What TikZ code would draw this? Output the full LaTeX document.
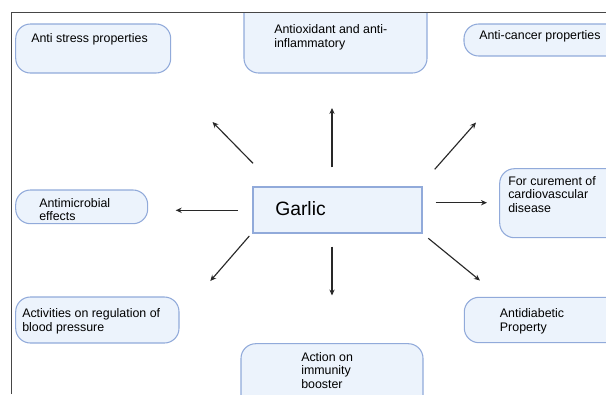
\documentclass[tikz,border=0pt]{standalone}
\usepackage{fontspec}
\setmainfont{Liberation Sans}
\usetikzlibrary{arrows.meta}
\definecolor{bubblefill}{RGB}{236,243,252}
\definecolor{bubbleline}{RGB}{145,170,218}
\definecolor{framegray}{RGB}{70,70,70}
\definecolor{spokegray}{RGB}{40,40,40}
\tikzset{
	bubble/.style={draw=bubbleline, fill=bubblefill, line width=0.8pt, rounded corners=11pt},
	bubbletext/.style={anchor=base west, inner sep=0pt, align=left, font=\fontsize{9.3pt}{10pt}\selectfont},
	spoke/.style={-{Stealth[length=4.5pt,width=4pt]}, line width=0.85pt, draw=spokegray}
}

\begin{document}
\begin{tikzpicture}[x=0.75pt, y=-0.75pt]
		%%%%% START %%%%%
		\useasboundingbox (0, 0) rectangle (606, 394);
		
		\begin{scope}
		\clip (11.7, 12.7) rectangle (606, 394);
		\draw[bubble] (15.7, 24) rectangle (170.7, 73);
		\draw[bubble] (244, -5) rectangle (427, 73);
		\draw[bubble] (464, 24) rectangle (625, 56);
		\draw[bubble] (15.7, 190) rectangle (147.7, 223.7);
		\draw[bubble] (499.7, 168.7) rectangle (625, 237.7);
		\draw[bubble] (15.7, 297) rectangle (179, 343);
		\draw[bubble] (241, 343.7) rectangle (423, 415);
		\draw[bubble] (464.3, 297.3) rectangle (625, 342.7);
		\end{scope}
		
		\draw[framegray, line width=0.8pt] (11.7, 394) -- (11.7, 12.7) -- (606, 12.7);
		
		% texts sit on the baseline of their last line
		\node[bubbletext] (stress) at (31, 42.5) {Anti stress properties};
		\node[bubbletext] (antiox) at (274, 47.3) {Antioxidant and anti-\\inflammatory};
		\node[bubbletext] (cancer) at (479, 39.5) {Anti-cancer properties};
		\node[bubbletext] (microbial) at (39, 220.8) {Antimicrobial\\effects};
		\node[bubbletext] (cardio) at (508, 212) {For curement of\\cardiovascular\\disease};
		\node[bubbletext] (pressure) at (22, 331.3) {Activities on regulation of\\blood pressure};
		\node[bubbletext] (immunity) at (301, 388) {Action on\\immunity\\booster};
		\node[bubbletext] (diabetic) at (499.7, 331) {Antidiabetic\\Property};
		
		% centre box
		\node[draw=bubbleline, fill=bubblefill, line width=0.8pt, minimum width=126.75pt, minimum height=34.5pt] (garlic) at (337.5, 210) {};
		\node[anchor=base west, inner sep=0pt, font=\fontsize{14.5pt}{16pt}\selectfont] (garlictext) at (275, 215) {Garlic};
		
		% spokes
		\coordinate (t1) at (253, 163.3);   \coordinate (h1) at (212.5, 122);
		\coordinate (t2) at (332, 167.3);   \coordinate (h2) at (332, 108);
		\coordinate (t3) at (434.7, 169.3); \coordinate (h3) at (476, 122.5);
		\coordinate (t4) at (237.7, 210.3); \coordinate (h4) at (175.7, 210.3);
		\coordinate (t5) at (435.7, 202.7); \coordinate (h5) at (487, 202.7);
		\coordinate (t6) at (249.3, 236);   \coordinate (h6) at (210.3, 281);
		\coordinate (t7) at (332, 246.7);   \coordinate (h7) at (332, 295.5);
		\coordinate (t8) at (428.3, 238.3); \coordinate (h8) at (480, 280.5);
		\foreach \i in {1,...,8}
			\draw[spoke] (t\i) -- (h\i);
		
		%%%%% END %%%%%
	\end{tikzpicture}
\end{document}
